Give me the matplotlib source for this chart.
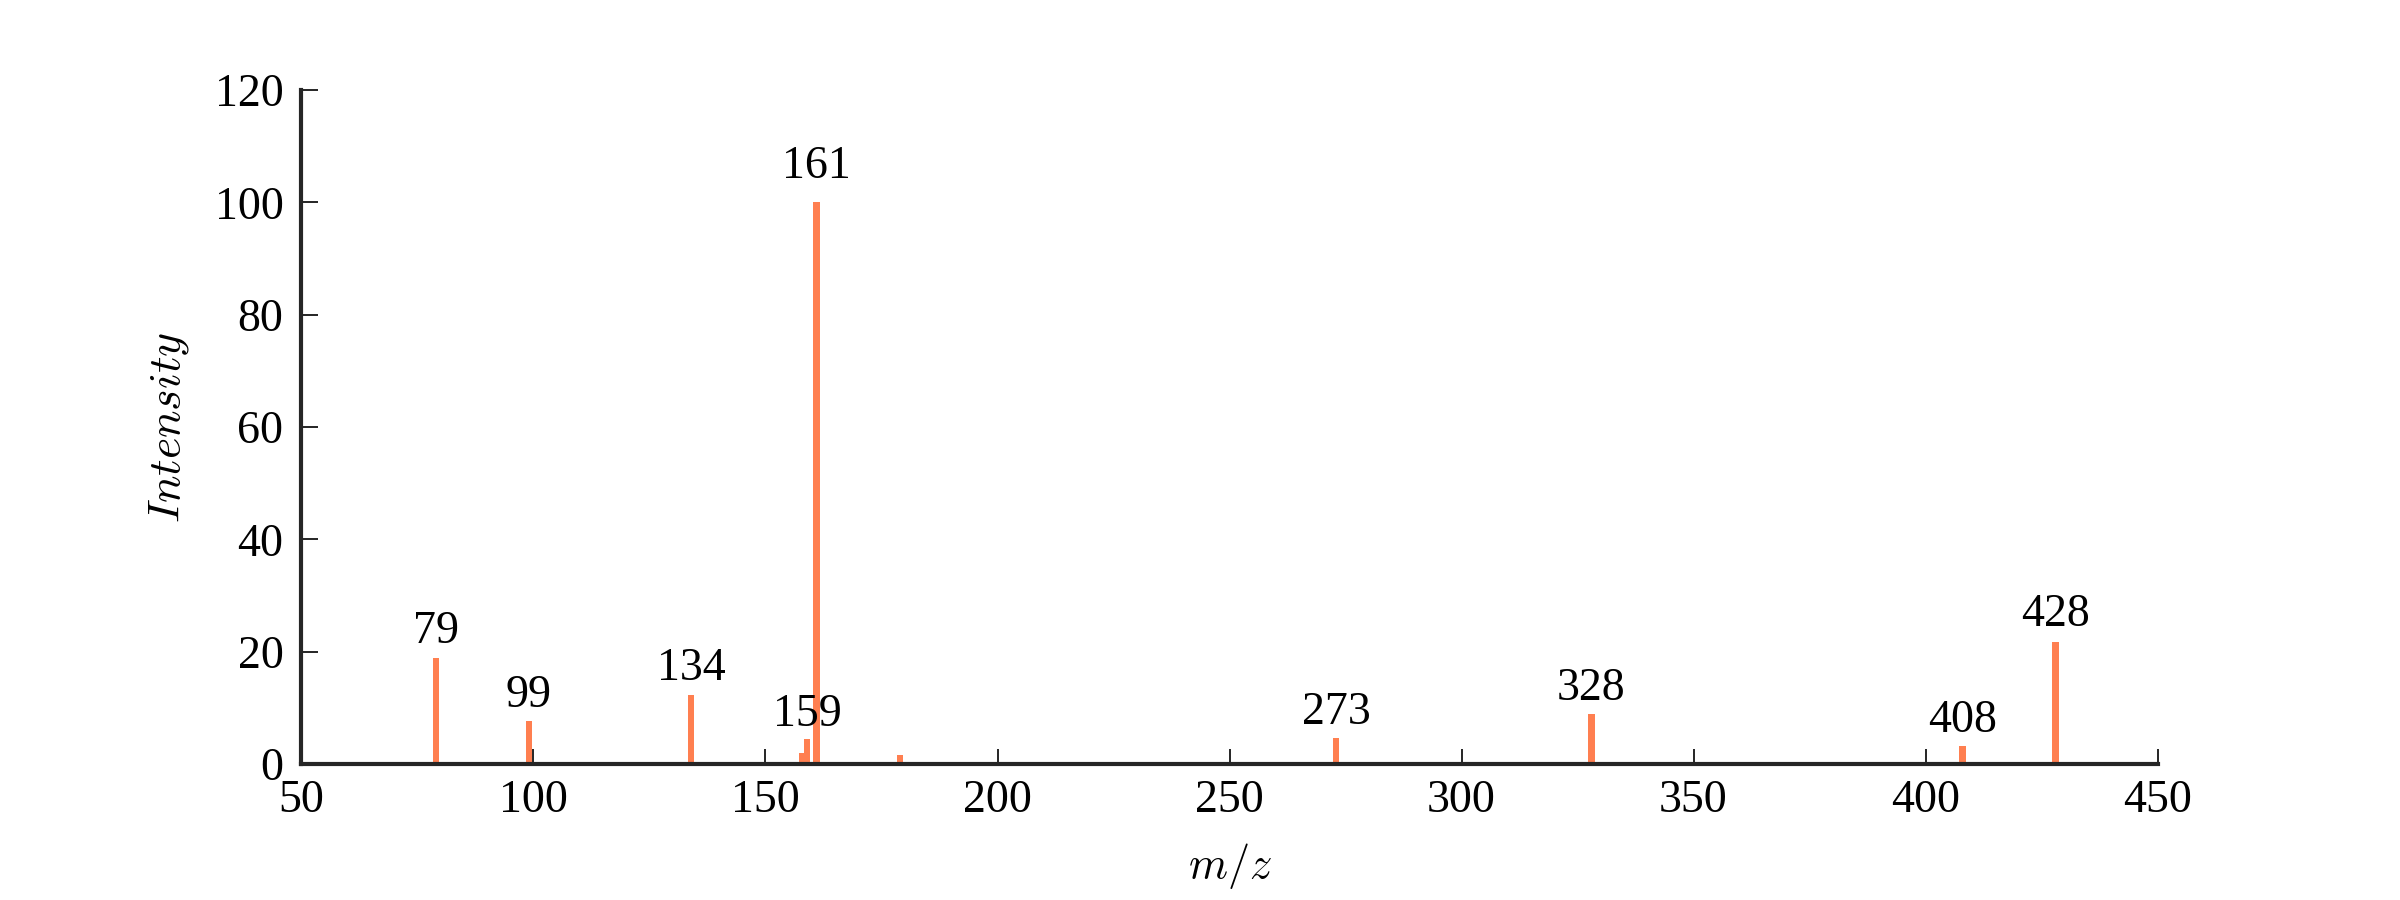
import matplotlib
matplotlib.use("Agg")
import matplotlib.pyplot as plt

# peaks
MZ = [79, 99, 134, 158, 159, 161, 179, 273, 328, 408, 428]
INTENSITY = [18.8, 7.7, 12.3, 2.0, 4.4, 100.0, 1.6, 4.6, 8.9, 3.3, 21.8]
LABELLED = [79, 99, 134, 159, 161, 273, 328, 408, 428]

X_TICKS = [50, 100, 150, 200, 250, 300, 350, 400, 450]
Y_TICKS = [0, 20, 40, 60, 80, 100, 120]

plt.rcParams['font.family'] = ['Liberation Serif', 'DejaVu Serif']
plt.rcParams['mathtext.fontset'] = 'cm'

BAR_COLOR = '#ff7f50'
SPINE_COLOR = '#262626'

fig = plt.figure(figsize=(24, 9), dpi=100)
ax = fig.add_axes([0.1256, 0.151, 0.7734, 0.749])

ax.bar(MZ, INTENSITY, width=1.4, color=BAR_COLOR, zorder=2)

for mz, h in zip(MZ, INTENSITY):
    if mz in LABELLED:
        ax.text(mz, h + 0.6 + 0.02 * h, str(mz), ha='center', va='bottom',
                fontsize=33, color='black')

ax.set_xlim(50, 450)
ax.set_ylim(0, 120)
ax.set_xticks(X_TICKS)
ax.set_yticks(Y_TICKS)

for side in ['top', 'right']:
    ax.spines[side].set_visible(False)
for side in ['left', 'bottom']:
    ax.spines[side].set_linewidth(3)
    ax.spines[side].set_color(SPINE_COLOR)
    ax.spines[side].set_zorder(3)

ax.tick_params(axis='both', direction='in', width=1.2, colors='black',
               labelsize=33)
ax.tick_params(axis='x', length=11, pad=11)
ax.tick_params(axis='y', length=12, pad=13)

ax.set_xlabel(r'$m/z$', fontsize=32, labelpad=14)
ax.set_ylabel(r'$Intensity$', fontsize=33, labelpad=17)

fig.savefig('out.png', dpi=100)
